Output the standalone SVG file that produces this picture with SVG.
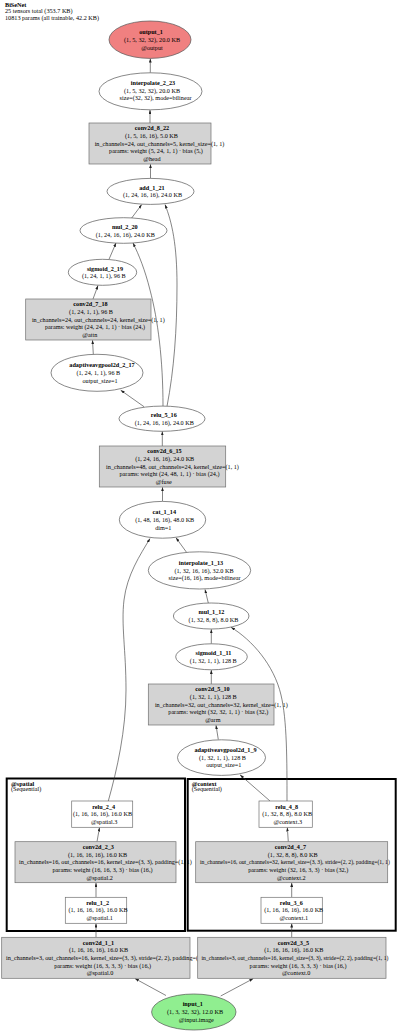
<svg xmlns="http://www.w3.org/2000/svg" width="400" height="1032" viewBox="0 0 400 1032">
<defs>
<marker id="ah" viewBox="0 0 10 7" markerWidth="4" markerHeight="2.8" refX="10" refY="3.5" orient="auto" markerUnits="userSpaceOnUse"><path d="M0,0 L10,3.5 L0,7 z" fill="#222"/></marker>
<style>
text{font-family:"Liberation Serif","Times New Roman",serif;font-size:6.2px;fill:#000;text-anchor:middle}
.b{font-weight:bold}
.s{text-anchor:start}
.sm{font-size:5.7px}
.box{fill:#d3d3d3;stroke:#707070;stroke-width:0.7}
.wbox{fill:#fff;stroke:#707070;stroke-width:0.7}
.ell{fill:#fff;stroke:#555;stroke-width:0.7}
.clu{fill:none;stroke:#000;stroke-width:2}
.edges path{fill:none;stroke:#333;stroke-width:0.6;marker-end:url(#ah)}
</style>
</defs>
<rect width="400" height="1032" fill="#fff"/>
<g id="header">
<text class="b s" x="5" y="6.9">BiSeNet</text>
<text class="s" x="5" y="13.4">25 tensors total (353.7 KB)</text>
<text class="s" x="5" y="19.9">10813 params (all trainable, 42.2 KB)</text>
</g>
<g id="cluster_spatial">
<rect class="clu" x="6.7" y="778.5" width="178.3" height="152.5"/>
<text class="b s" x="11" y="785.5">@spatial</text>
<text class="s" x="11" y="791.3">(Sequential)</text>
</g>
<g id="cluster_context">
<rect class="clu" x="187.7" y="779" width="208" height="151.7"/>
<text class="b s" x="191.7" y="785.5">@context</text>
<text class="s" x="191.7" y="791.3">(Sequential)</text>
</g>
<g class="edges" id="edges">
<path d="M150.3,72.8 L150.3,58.6"/>
<path d="M150,123 L150,110"/>
<path d="M150.5,178.4 L150.5,164.2"/>
<path d="M131.7,218 L141.7,204.6"/>
<path d="M167,406.3 C174,370 177,330 177,285 C177,245 172,222 165,204.6"/>
<path d="M109,259.3 L116,243"/>
<path d="M163,406.3 C163,360 158,320 150,290 C145,270 139,255 133,243"/>
<path d="M93,299 L98,285.5"/>
<path d="M93.3,354.3 L92.5,340.2"/>
<path d="M144,406.7 L120.7,390.2"/>
<path d="M162.3,446 L162.3,431.4"/>
<path d="M162.5,501.2 L162.5,487.2"/>
<path d="M186.7,552.5 L176,537.8"/>
<path d="M108.3,801 C117,770 126,730 126,690 C126,650 121,625 124,600 C127,575 140,555 150,538.6"/>
<path d="M208.3,603 L205,589.4"/>
<path d="M211.3,643.8 L211.3,629.3"/>
<path d="M211.3,684 L211.3,670"/>
<path d="M218.3,739.5 L216,725.2"/>
<path d="M270,801 L240,774.8"/>
<path d="M287,801 C287,760 287,720 281,695 C274,665 252,640 231,627.3"/>
<path d="M288.3,841.7 L287.3,827.5"/>
<path d="M291.7,897.3 L291.7,882.9"/>
<path d="M291.7,937.3 L291.7,923.5"/>
<path d="M97,841.7 L99.5,827.5"/>
<path d="M96,897.3 L96,882.9"/>
<path d="M96,937.3 L96,923.5"/>
<path d="M166,995.5 L135,978.6"/>
<path d="M220.7,996 L253.3,978.6"/>
</g>
<g id="output_1">
<ellipse cx="150" cy="39.7" rx="41" ry="18.7" fill="#f08080" stroke="#555" stroke-width="0.7"/>
<text class="b" x="151" y="34.1">output_1</text>
<text x="152" y="41.8">(1, 5, 32, 32), 20.0 KB</text>
<text x="152" y="49.5">@output</text>
</g>
<g id="interpolate_2_23">
<ellipse class="ell" cx="150.5" cy="91.3" rx="51.5" ry="18.5"/>
<text class="b" x="153" y="84.8">interpolate_2_23</text>
<text x="152" y="92.6">(1, 5, 32, 32), 20.0 KB</text>
<text x="155.5" y="100.4">size=(32, 32), mode=bilinear</text>
</g>
<g id="conv2d_8_22">
<rect class="box" x="89" y="123" width="122" height="41"/>
<text class="b" x="152" y="130.2">conv2d_8_22</text>
<text x="151.5" y="137.9">(1, 5, 16, 16), 5.0 KB</text>
<text x="159.5" y="145.6">in_channels=24, out_channels=5, kernel_size=(1, 1)</text>
<text x="156" y="153.3">params: weight (5, 24, 1, 1) · bias (5,)</text>
<text x="152" y="161">@head</text>
</g>
<g id="add_1_21">
<ellipse class="ell" cx="150.5" cy="191.4" rx="43.5" ry="13"/>
<text class="b" x="152" y="189.6">add_1_21</text>
<text x="152.5" y="197.4">(1, 24, 16, 16), 24.0 KB</text>
</g>
<g id="mul_2_20">
<ellipse class="ell" cx="123.5" cy="230.5" rx="43.5" ry="12.8"/>
<text class="b" x="124.8" y="228.7">mul_2_20</text>
<text x="125.3" y="236.5">(1, 24, 16, 16), 24.0 KB</text>
</g>
<g id="sigmoid_2_19">
<ellipse class="ell" cx="102.5" cy="272.3" rx="34.2" ry="13"/>
<text class="b" x="105" y="270.5">sigmoid_2_19</text>
<text x="103.8" y="278.3">(1, 24, 1, 1), 96 B</text>
</g>
<g id="conv2d_7_18">
<rect class="box" x="25.7" y="299" width="125.3" height="41"/>
<text class="b" x="90.5" y="306.2">conv2d_7_18</text>
<text x="91" y="313.9">(1, 24, 1, 1), 96 B</text>
<text x="98.3" y="321.6">in_channels=24, out_channels=24, kernel_size=(1, 1)</text>
<text x="95" y="329.3">params: weight (24, 24, 1, 1) · bias (24,)</text>
<text x="89.8" y="337">@attn</text>
</g>
<g id="adaptiveavgpool2d_2_17">
<ellipse class="ell" cx="97" cy="372.8" rx="46" ry="18.5"/>
<text class="b" x="102" y="367.2">adaptiveavgpool2d_2_17</text>
<text x="98.3" y="374.9">(1, 24, 1, 1), 96 B</text>
<text x="100" y="382.6">output_size=1</text>
</g>
<g id="relu_5_16">
<ellipse class="ell" cx="162" cy="418.7" rx="43" ry="12.6"/>
<text class="b" x="163.8" y="416.9">relu_5_16</text>
<text x="164.3" y="424.7">(1, 24, 16, 16), 24.0 KB</text>
</g>
<g id="conv2d_6_15">
<rect class="box" x="99.3" y="446" width="126.4" height="41"/>
<text class="b" x="164.5" y="453.2">conv2d_6_15</text>
<text x="164.7" y="460.9">(1, 24, 16, 16), 24.0 KB</text>
<text x="172.5" y="468.6">in_channels=48, out_channels=24, kernel_size=(1, 1)</text>
<text x="169.5" y="476.3">params: weight (24, 48, 1, 1) · bias (24,)</text>
<text x="163.8" y="484">@fuse</text>
</g>
<g id="cat_1_14">
<ellipse class="ell" cx="162.5" cy="519.8" rx="43.2" ry="18.4"/>
<text class="b" x="164.3" y="514.2">cat_1_14</text>
<text x="164.7" y="521.9">(1, 48, 16, 16), 48.0 KB</text>
<text x="163.3" y="529.6">dim=1</text>
</g>
<g id="interpolate_1_13">
<ellipse class="ell" cx="199.5" cy="570.4" rx="51.2" ry="18.6"/>
<text class="b" x="201" y="564.8">interpolate_1_13</text>
<text x="204" y="572.5">(1, 32, 16, 16), 32.0 KB</text>
<text x="204.5" y="580.2">size=(16, 16), mode=bilinear</text>
</g>
<g id="mul_1_12">
<ellipse class="ell" cx="211.2" cy="616" rx="37.8" ry="13"/>
<text class="b" x="211.5" y="614.2">mul_1_12</text>
<text x="213.5" y="622">(1, 32, 8, 8), 8.0 KB</text>
</g>
<g id="sigmoid_1_11">
<ellipse class="ell" cx="211.5" cy="656.8" rx="35.8" ry="13"/>
<text class="b" x="213.5" y="655">sigmoid_1_11</text>
<text x="213.3" y="662.8">(1, 32, 1, 1), 128 B</text>
</g>
<g id="conv2d_5_10">
<rect class="box" x="148.3" y="684" width="125.7" height="41"/>
<text class="b" x="212.5" y="691.2">conv2d_5_10</text>
<text x="213.3" y="698.9">(1, 32, 1, 1), 128 B</text>
<text x="221.3" y="706.6">in_channels=32, out_channels=32, kernel_size=(1, 1)</text>
<text x="218.3" y="714.3">params: weight (32, 32, 1, 1) · bias (32,)</text>
<text x="212.8" y="722">@arm</text>
</g>
<g id="adaptiveavgpool2d_1_9">
<ellipse class="ell" cx="221.5" cy="757.6" rx="44" ry="17.8"/>
<text class="b" x="225.5" y="752">adaptiveavgpool2d_1_9</text>
<text x="222.5" y="759.7">(1, 32, 1, 1), 128 B</text>
<text x="223.7" y="767.4">output_size=1</text>
</g>
<g id="relu_2_4">
<rect class="wbox" x="71.7" y="801" width="61" height="26.3"/>
<text class="b" x="103.7" y="808.6">relu_2_4</text>
<text x="102.5" y="816.3">(1, 16, 16, 16), 16.0 KB</text>
<text x="104.2" y="824">@spatial.3</text>
</g>
<g id="conv2d_2_3">
<rect class="box" x="15" y="841.7" width="161" height="41"/>
<text class="b" x="98.3" y="848.9">conv2d_2_3</text>
<text x="97.5" y="856.6">(1, 16, 16, 16), 16.0 KB</text>
<text class="s" x="19" y="864.3">in_channels=16, out_channels=16, kernel_size=(3, 3), padding=(1, 1)</text>
<text x="102.5" y="872">params: weight (16, 16, 3, 3) · bias (16,)</text>
<text x="99.7" y="879.7">@spatial.2</text>
</g>
<g id="relu_1_2">
<rect class="wbox" x="65.3" y="897.3" width="61.4" height="26"/>
<text class="b" x="97.7" y="904.7">relu_1_2</text>
<text x="98" y="912.4">(1, 16, 16, 16), 16.0 KB</text>
<text x="99.7" y="920.1">@spatial.1</text>
</g>
<g id="relu_4_8">
<rect class="wbox" x="259" y="801" width="53.3" height="26.3"/>
<text class="b" x="286.7" y="808.6">relu_4_8</text>
<text x="287.2" y="816.3">(1, 32, 8, 8), 8.0 KB</text>
<text x="287.8" y="824">@context.3</text>
</g>
<g id="conv2d_4_7">
<rect class="box" x="195.7" y="841.7" width="192" height="41"/>
<text class="b" x="290.5" y="848.9">conv2d_4_7</text>
<text x="292.7" y="856.6">(1, 32, 8, 8), 8.0 KB</text>
<text class="s sm" x="200" y="864.3">in_channels=16, out_channels=32, kernel_size=(3, 3), stride=(2, 2), padding=(1, 1)</text>
<text x="298.2" y="872">params: weight (32, 16, 3, 3) · bias (32,)</text>
<text x="291.3" y="879.7">@context.2</text>
</g>
<g id="relu_3_6">
<rect class="wbox" x="261" y="897.3" width="61.3" height="26"/>
<text class="b" x="291.3" y="904.7">relu_3_6</text>
<text x="293.7" y="912.4">(1, 16, 16, 16), 16.0 KB</text>
<text x="293.8" y="920.1">@context.1</text>
</g>
<g id="conv2d_1_1">
<rect class="box" x="1.7" y="937.3" width="188.3" height="41"/>
<text class="b" x="98.5" y="944.5">conv2d_1_1</text>
<text x="98.5" y="952.2">(1, 16, 16, 16), 16.0 KB</text>
<text class="s" x="6" y="959.9">in_channels=3, out_channels=16, kernel_size=(3, 3), stride=(2, 2), padding=(1, 1)</text>
<text x="102.7" y="967.6">params: weight (16, 3, 3, 3) · bias (16,)</text>
<text x="100" y="975.3">@spatial.0</text>
</g>
<g id="conv2d_3_5">
<rect class="box" x="197.7" y="937.3" width="188.3" height="41"/>
<text class="b" x="293.5" y="944.5">conv2d_3_5</text>
<text x="293.8" y="952.2">(1, 16, 16, 16), 16.0 KB</text>
<text class="s sm" x="201.5" y="959.9">in_channels=3, out_channels=16, kernel_size=(3, 3), stride=(2, 2), padding=(1, 1)</text>
<text x="298" y="967.6">params: weight (16, 3, 3, 3) · bias (16,)</text>
<text x="296.2" y="975.3">@context.0</text>
</g>
<g id="input_1">
<ellipse cx="193.8" cy="1012" rx="42.2" ry="18" fill="#90ee90" stroke="#555" stroke-width="0.7"/>
<text class="b" x="192.8" y="1006.4">input_1</text>
<text x="195" y="1014.1">(1, 3, 32, 32), 12.0 KB</text>
<text x="196.3" y="1021.8">@input.image</text>
</g>
</svg>
